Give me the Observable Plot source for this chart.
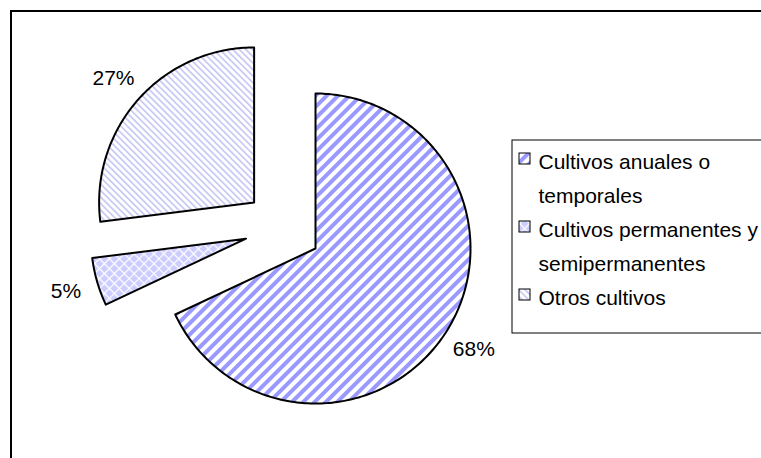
<!DOCTYPE html>
<html><head><meta charset="utf-8">
<script src="https://cdn.jsdelivr.net/npm/d3@7"></script>
<script src="https://cdn.jsdelivr.net/npm/@observablehq/plot@0.6"></script>
<style>
html,body{margin:0;padding:0;background:#fff;overflow:hidden;}
</style></head><body><div id="chart"></div>
<script>
// ---- data ----
const categories = ["Cultivos anuales o temporales", "Cultivos permanentes y semipermanentes", "Otros cultivos"];
const values = [68, 5, 27];
const patterns = ["url(#p-anuales)", "url(#p-perm)", "url(#p-otros)"];

// ---- layout ----
const W = 761, H = 458;
const cx = 282.5, cy = 227.4, R = 155, explode = 38.5, labelR = 226;

const total = d3.sum(values);
const dir = a => [Math.sin(a), -Math.cos(a)];
const slices = [];
let acc = 0;
values.forEach((v, i) => {
  const a0 = acc / total * 2 * Math.PI; acc += v;
  const a1 = acc / total * 2 * Math.PI;
  slices.push({i, v, a0, a1, mid: (a0 + a1) / 2});
});

const polyPts = [];
slices.forEach(s => {
  const [dx, dy] = dir(s.mid);
  const ox = cx + explode * dx, oy = cy + explode * dy;
  polyPts.push({slice: s.i, x: ox, y: oy, fill: patterns[s.i]});
  const n = Math.max(2, Math.ceil((s.a1 - s.a0) / (Math.PI / 180)));
  for (let k = 0; k <= n; k++) {
    const a = s.a0 + (s.a1 - s.a0) * k / n;
    const [ux, uy] = dir(a);
    polyPts.push({slice: s.i, x: ox + R * ux, y: oy + R * uy, fill: patterns[s.i]});
  }
});

const labels = slices.map(s => ({
  x: cx + labelR * dir(s.mid)[0],
  y: cy + labelR * dir(s.mid)[1],
  text: s.v + "%"
}));

const chart = Plot.plot({
  width: W, height: H, margin: 0,
  x: {domain: [0, W], range: [0, W], axis: null},
  y: {domain: [0, H], range: [0, H], axis: null},
  color: {type: "identity"},
  style: {fontFamily: "'Liberation Sans', Arial, sans-serif", background: "white", overflow: "hidden"},
  marks: [
    Plot.ruleX([10.5], {y1: 10, y2: H, stroke: "black", strokeWidth: 2}),
    Plot.ruleY([10.5], {x1: 10, x2: W, stroke: "black", strokeWidth: 2}),
    Plot.line(polyPts, {x: "x", y: "y", z: "slice", fill: "fill", stroke: "black", strokeWidth: 2, curve: "linear-closed", strokeLinejoin: "round"}),
    Plot.text(labels, {x: "x", y: "y", text: "text", fontSize: 21, fill: "black", textAnchor: "middle", lineAnchor: "middle"}),
    Plot.rect([0], {x1: 512, x2: W + 20, y1: 140, y2: 333, fill: "white", stroke: "black", strokeWidth: 1}),
    Plot.rect(categories, {x1: 519, x2: 530, y1: (d, i) => 153 + 68 * i, y2: (d, i) => 164 + 68 * i, fill: (d, i) => patterns[i], stroke: "black", strokeWidth: 1}),
    Plot.text(categories, {x: 538, y: (d, i) => 144 + 68 * i, text: d => d, textAnchor: "start", lineAnchor: "top", lineWidth: 12, lineHeight: 1.62, fontSize: 21, fill: "black"})
  ]
});

const ns = "http://www.w3.org/2000/svg";
const defs = document.createElementNS(ns, "defs");
defs.innerHTML = `
<pattern id="p-anuales" patternUnits="userSpaceOnUse" width="8" height="8" patternTransform="rotate(45)">
  <rect width="8" height="8" fill="#ffffff"/>
  <rect width="4" height="8" fill="#9999ff"/>
</pattern>
<pattern id="p-perm" patternUnits="userSpaceOnUse" width="7" height="7" patternTransform="rotate(45)">
  <rect width="7" height="7" fill="#ccccff"/>
  <rect width="1.2" height="7" fill="#ffffff"/>
  <rect width="7" height="1.2" fill="#ffffff"/>
</pattern>
<pattern id="p-otros" patternUnits="userSpaceOnUse" width="4.6" height="4.6" patternTransform="rotate(-45)">
  <rect width="4.6" height="4.6" fill="#ffffff"/>
  <rect width="1.6" height="4.6" fill="#c4c4f4"/>
</pattern>`;
chart.insertBefore(defs, chart.firstChild);
document.getElementById("chart").appendChild(chart);
</script>
</body></html>
